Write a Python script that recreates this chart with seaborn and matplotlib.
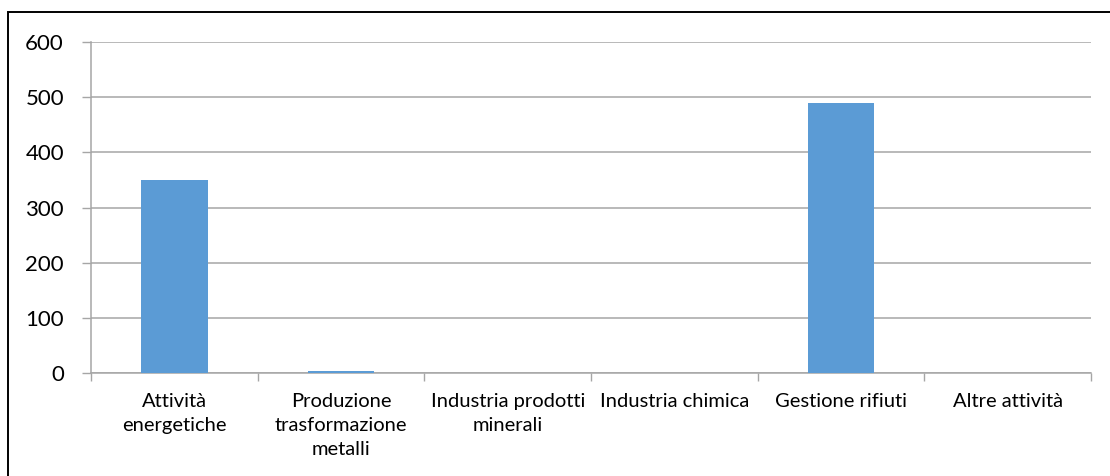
import matplotlib
matplotlib.use("Agg")
import matplotlib.pyplot as plt
from matplotlib.patches import Rectangle
import seaborn as sns
import pandas as pd

categories = [
    "Attività\nenergetiche",
    "Produzione\ntrasformazione\nmetalli",
    "Industria prodotti\nminerali",
    "Industria chimica",
    "Gestione rifiuti",
    "Altre attività",
]
values = [350, 5, 0, 0, 490, 1]
y_ticks = [0, 100, 200, 300, 400, 500, 600]

sns.set_theme(style="white")
plt.rcParams["font.family"] = ["Lato", "DejaVu Sans"]

df = pd.DataFrame({"categoria": categories, "valore": values})

fig = plt.figure(figsize=(11.1, 4.76), dpi=100)
ax = fig.add_axes([0.082, 0.2157, 0.901, 0.6961])

sns.barplot(data=df, x="categoria", y="valore", color="#5B9BD5",
            saturation=1, width=0.4, linewidth=0, ax=ax)

ax.set_ylim(0, 600)
ax.set_xlim(-0.5, len(categories) - 0.5)
ax.set_yticks(y_ticks)
ax.set_yticklabels([str(t) for t in y_ticks], fontsize=16, color="black")
ax.yaxis.grid(True, color="#A6A6A6", linewidth=1.1)
ax.set_axisbelow(True)
ax.set_xlabel("")
ax.set_ylabel("")

# category labels centred, tick marks on category boundaries
ax.set_xticks(range(len(categories)))
ax.set_xticklabels(categories, fontsize=14.5, color="black", linespacing=1.5)
ax.set_xticks([i - 0.5 for i in range(len(categories) + 1)], minor=True)
ax.tick_params(axis="x", which="major", length=0, pad=14)
ax.tick_params(axis="x", which="minor", length=6, width=1, color="#A6A6A6",
               direction="out", bottom=True)
ax.tick_params(axis="y", length=6.5, width=1, color="#A6A6A6", direction="out",
               left=True, pad=13)

for side in ["top", "right"]:
    ax.spines[side].set_visible(False)
for side in ["left", "bottom"]:
    ax.spines[side].set_visible(True)
    ax.spines[side].set_color("#A6A6A6")
    ax.spines[side].set_linewidth(1.1)
    ax.spines[side].set_zorder(0.5)

# chart frame
frame = Rectangle((8 / 1110, -0.1), 1.2, 1.1 - 12 / 476,
                  transform=fig.transFigure, fill=False,
                  edgecolor="black", linewidth=1.4)
fig.patches.append(frame)

fig.savefig("out.png", dpi=100)
